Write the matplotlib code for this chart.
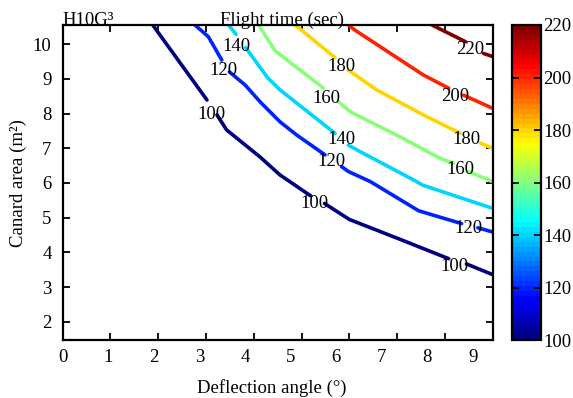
import numpy as np
import matplotlib.pyplot as plt
from matplotlib import colors, cm

nan = np.nan

# contour levels (flight time, sec)
levels = [100, 120, 140, 160, 180, 200, 220]

# contour polylines, NaN = gap where the label sits
x100 = [1.885, 3.02, nan, 3.23, 3.43, 4.13, 4.55, 5.19, nan, 5.48, 6.0, 7.02, 8.08, nan, 8.45, 9.0]
y100 = [10.55, 8.39, nan, 7.96, 7.53, 6.75, 6.23, 5.63, nan, 5.41, 4.95, 4.40, 3.82, nan, 3.67, 3.36]
x120 = [2.77, 3.05, 3.33, nan, 3.49, 3.82, 4.13, 4.55, 4.90, 5.49, nan, 5.84, 5.98, 6.44, 7.45, 8.35, nan, 8.69, 9.0]
y120 = [10.55, 10.21, 9.54, nan, 9.20, 8.82, 8.34, 7.76, 7.38, 6.81, nan, 6.47, 6.33, 6.04, 5.20, 4.83, nan, 4.71, 4.59]
x140 = [3.47, 3.63, nan, 3.83, 4.29, 4.55, 5.70, nan, 5.98, 6.23, 7.41, 7.53, 9.0]
y140 = [10.55, 10.28, nan, 9.90, 9.03, 8.68, 7.43, nan, 7.09, 6.90, 6.04, 5.94, 5.27]
x160 = [4.10, 4.45, 4.97, 5.46, nan, 5.77, 6.02, 7.06, 7.90, 8.18, nan, 8.49, 9.0]
y160 = [10.55, 9.80, 9.25, 8.73, nan, 8.34, 8.05, 7.33, 6.71, 6.57, nan, 6.33, 6.04]
x180 = [4.86, 5.0, 5.70, nan, 5.98, 6.57, 7.55, 7.90, 8.32, nan, 8.74, 9.0]
y180 = [10.55, 10.40, 9.61, nan, 9.25, 8.68, 7.96, 7.72, 7.43, nan, 7.15, 7.0]
x200 = [5.98, 6.12, 7.55, 8.08, nan, 8.39, 9.0]
y200 = [10.55, 10.40, 9.11, 8.73, nan, 8.53, 8.15]
x220 = [7.73, 8.43, nan, 8.81, 9.0]
y220 = [10.55, 10.07, nan, 9.73, 9.64]

# inline label positions
labx100 = [3.12, 5.28, 8.21]
laby100 = [7.96, 5.40, 3.60]
labx120 = [3.36, 5.63, 8.50]
laby120 = [9.25, 6.61, 4.69]
labx140 = [3.64, 5.84]
laby140 = [9.92, 7.24]
labx160 = [5.53, 8.32]
laby160 = [8.44, 6.38]
labx180 = [5.84, 8.46]
laby180 = [9.35, 7.24]
labx200 = [8.22]
laby200 = [8.49]
labx220 = [8.53]
laby220 = [9.83]

xs = [x100, x120, x140, x160, x180, x200, x220]
ys = [y100, y120, y140, y160, y180, y200, y220]
labxs = [labx100, labx120, labx140, labx160, labx180, labx200, labx220]
labys = [laby100, laby120, laby140, laby160, laby180, laby200, laby220]

xticks = list(range(10))
yticks = list(range(2, 11))

plt.rcParams['font.family'] = ['Liberation Serif', 'DejaVu Serif']
plt.rcParams['font.size'] = 13.5

# MATLAB style jet
jet_m = colors.LinearSegmentedColormap('jet_m', {
    'red':   [(0, 0, 0), (3/8, 0, 0), (5/8, 1, 1), (7/8, 1, 1), (1, 0.5, 0.5)],
    'green': [(0, 0, 0), (1/8, 0, 0), (3/8, 1, 1), (5/8, 1, 1), (7/8, 0, 0), (1, 0, 0)],
    'blue':  [(0, 0.5, 0.5), (1/8, 1, 1), (3/8, 1, 1), (5/8, 0, 0), (1, 0, 0)],
}, N=64)
norm = colors.Normalize(vmin=100, vmax=220)

fig = plt.figure(figsize=(5.73, 3.98), dpi=100)
ax = fig.add_axes([0.1094, 0.145, 0.7504, 0.7922])
cax = fig.add_axes([0.894, 0.145, 0.0496, 0.7922])

for lev, x, y, lx, ly in zip(levels, xs, ys, labxs, labys):
    ax.plot(x, y, color=jet_m(norm(lev)), lw=2.6, solid_capstyle='round')
    for a, b in zip(lx, ly):
        ax.text(a, b, str(lev), ha='center', va='center')

ax.set_xlim(0, 9)
ax.set_ylim(1.47, 10.55)

# ticks on the axis, labels drawn slightly compressed as in the original
ax.xaxis.remove_overlapping_locs = False
ax.set_xticks(xticks, [''] * len(xticks))
ax.set_xticks([k * 0.954 for k in xticks], [str(k) for k in xticks], minor=True)
ax.set_yticks(yticks)
ax.tick_params(which='major', direction='in', length=5, width=1.3, top=True, right=True)
ax.tick_params(which='minor', length=0, top=False, right=False)
ax.tick_params(axis='x', which='both', pad=6)
ax.tick_params(axis='y', pad=8)
for s in ax.spines.values():
    s.set_linewidth(1.6)

ax.set_xlabel('Deflection angle (°)', labelpad=10, x=0.486)
ax.set_ylabel('Canard area (m²)', labelpad=4)
ax.text(0.51, 1.0, 'Flight time (sec)', transform=ax.transAxes, ha='center', va='baseline')
ax.text(0.0, 1.0, 'H10G³', transform=ax.transAxes, ha='left', va='baseline')

cb = fig.colorbar(cm.ScalarMappable(norm=norm, cmap=jet_m), cax=cax, ticks=levels)
cax.tick_params(direction='in', left=True, right=True, length=5, width=1.3, pad=2)
cb.outline.set_linewidth(1.6)

fig.savefig('out.png', dpi=100)
